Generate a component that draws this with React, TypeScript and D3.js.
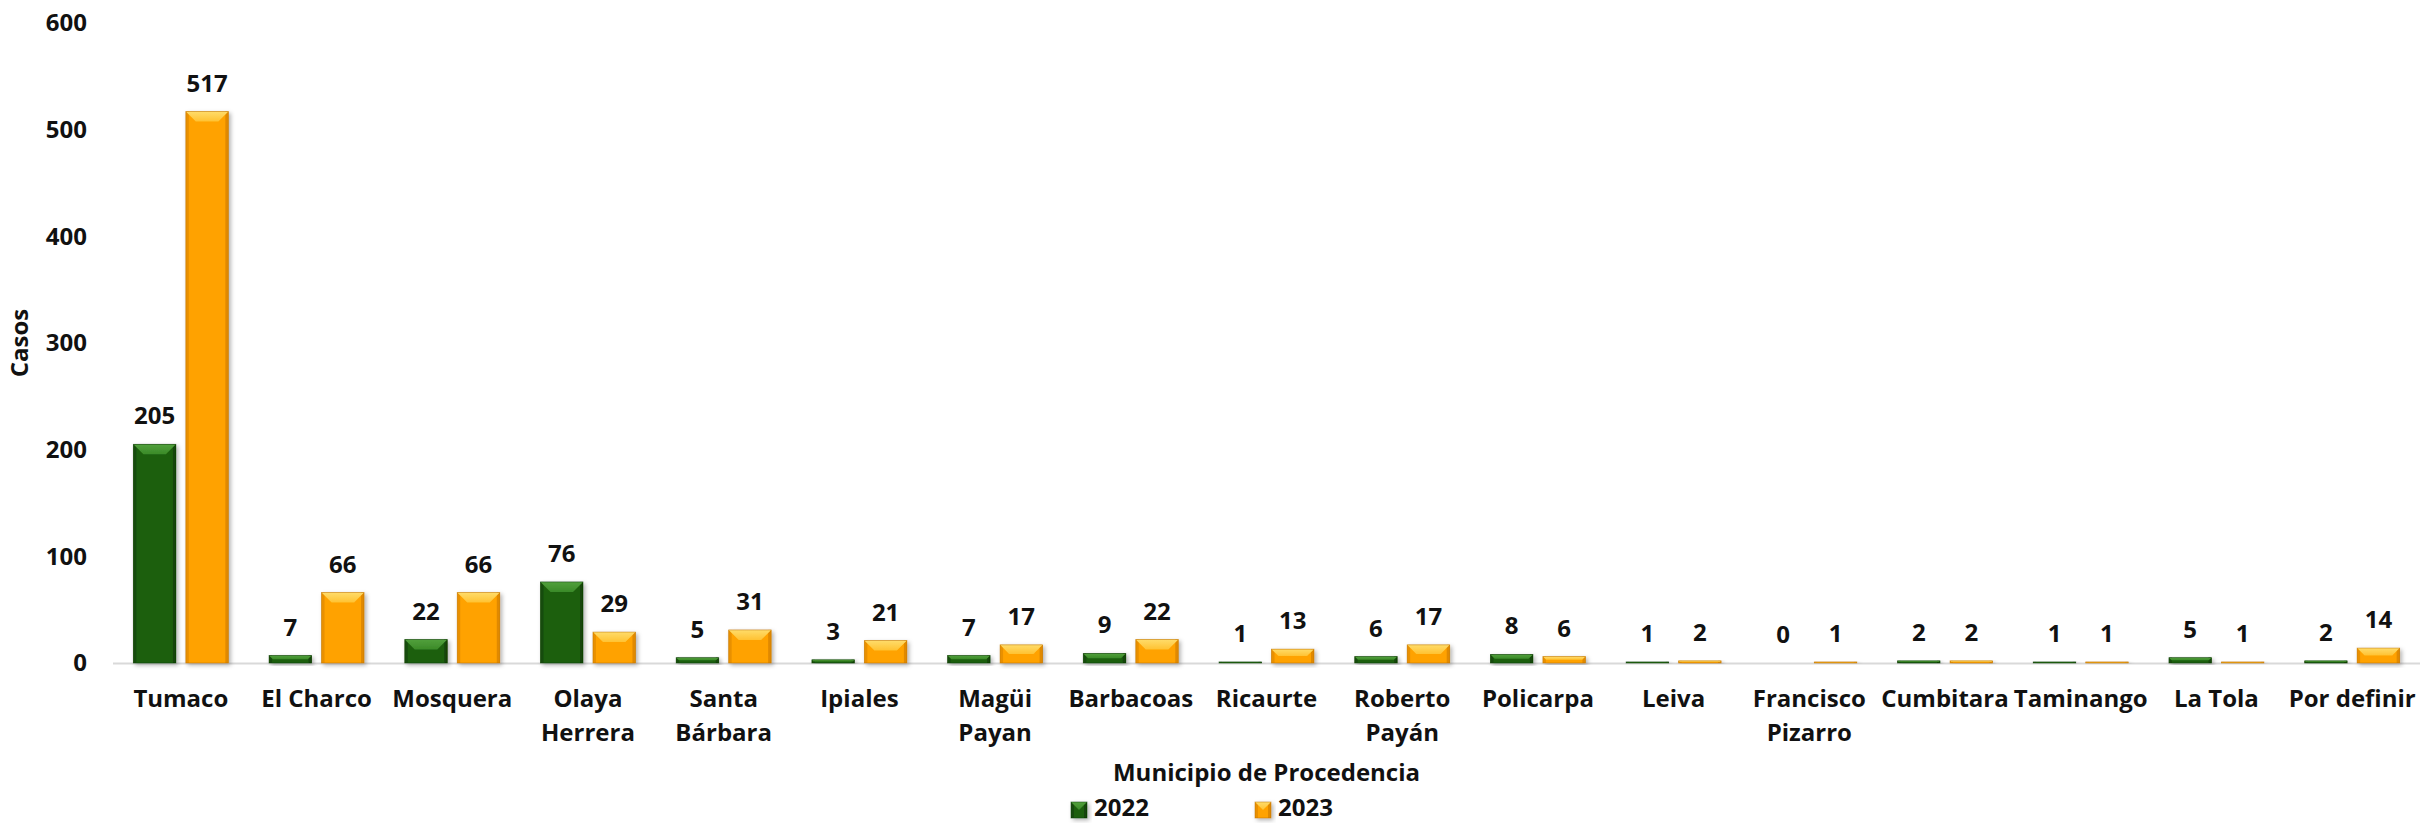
import React from "react";
import * as d3 from "d3";

const categories = [
  "Tumaco", "El Charco", "Mosquera", "Olaya Herrera", "Santa Bárbara", "Ipiales",
  "Magüi Payan", "Barbacoas", "Ricaurte", "Roberto Payán", "Policarpa", "Leiva",
  "Francisco Pizarro", "Cumbitara", "Taminango", "La Tola", "Por definir",
];
const wrappedLabels = ["Olaya Herrera", "Santa Bárbara", "Magüi Payan", "Roberto Payán", "Francisco Pizarro"];
const series = ["2022", "2023"];
const values2022 = [205, 7, 22, 76, 5, 3, 7, 9, 1, 6, 8, 1, 0, 2, 1, 5, 2];
const values2023 = [517, 66, 66, 29, 31, 21, 17, 22, 13, 17, 6, 2, 1, 2, 1, 1, 14];
const yTicks = [0, 100, 200, 300, 400, 500, 600];
const yTitle = "Casos";
const xTitle = "Municipio de Procedencia";

const W = 2420;
const H = 824;
const FONT = "'Open Sans', 'Noto Sans', sans-serif";
const FS = 24;

const palette: Record<string, { base: string; light: string; lightTop: string; dark: string; edge: string }> = {
  "2022": { base: "#1c5f0b", light: "#3a8a28", lightTop: "#52a03c", dark: "#134507", edge: "#0f3a05" },
  "2023": { base: "#ffa200", light: "#ffc232", lightTop: "#ffdc6a", dark: "#e08900", edge: "#b97000" },
};

function BevelBar({ x, y, w, h, s }: { x: number; y: number; w: number; h: number; s: string }) {
  if (h <= 0.01) return null;
  const c = palette[s];
  const b = Math.min(10, h / 2, w / 2);
  const side = Math.min(3, w / 4);
  return (
    <g filter="url(#shadow)">
      <rect x={x} y={y} width={w} height={h} fill={c.base} />
      <rect x={x} y={y} width={side} height={h} fill={c.dark} opacity={0.7} />
      <rect x={x + w - side} y={y} width={side} height={h} fill={c.dark} />
      <polygon
        points={`${x},${y} ${x + w},${y} ${x + w - b},${y + b} ${x + b},${y + b}`}
        fill={`url(#top-${s})`}
      />
      <rect x={x} y={y} width={w} height={h} fill="none" stroke={c.edge} strokeWidth={0.8} strokeOpacity={0.6} />
    </g>
  );
}

export default function App() {
  const plotLeft = 113;
  const plotRight = 2420;
  const y0 = 663;
  const yTop = 23;

  const x = d3.scaleBand<string>().domain(categories).range([plotLeft, plotRight]).paddingInner(0).paddingOuter(0);
  const bw = x.bandwidth();
  const x1 = d3.scaleBand<string>().domain(series).range([bw * 0.15, bw * 0.85]).paddingInner(0.19);
  const y = d3.scaleLinear().domain([0, 600]).range([y0, yTop]);

  const data: Record<string, number[]> = { "2022": values2022, "2023": values2023 };

  return (
    <svg
      width={W}
      height={H}
      style={{ position: "absolute", left: 0, top: 0, display: "block", background: "#fff" }}
      fontFamily={FONT}
    >
      <defs>
        <filter id="shadow" x="-30%" y="-30%" width="160%" height="160%">
          <feDropShadow dx="2" dy="2" stdDeviation="2" floodColor="#000" floodOpacity="0.3" />
        </filter>
        {series.map((s) => (
          <linearGradient key={s} id={`top-${s}`} x1="0" y1="0" x2="0" y2="1">
            <stop offset="0%" stopColor={palette[s].lightTop} />
            <stop offset="100%" stopColor={palette[s].light} />
          </linearGradient>
        ))}
      </defs>

      {yTicks.map((t) => (
        <text key={t} x={87} y={y(t)} dy="0.35em" textAnchor="end" fontSize={FS} fontWeight="bold" fill="#111">
          {t}
        </text>
      ))}

      <text
        transform={`translate(${28},${(y0 + yTop) / 2}) rotate(-90)`}
        textAnchor="middle"
        fontSize={FS}
        fontWeight="bold"
        fill="#111"
      >
        {yTitle}
      </text>

      <line x1={plotLeft} x2={plotRight} y1={y0 + 0.5} y2={y0 + 0.5} stroke="#d9d9d9" strokeWidth={2} />

      {categories.map((cat, i) => (
        <g key={cat}>
          {series.map((s) => {
            const v = data[s][i];
            const bx = (x(cat) as number) + (x1(s) as number);
            const by = y(v);
            return <BevelBar key={s} x={bx} y={by} w={x1.bandwidth()} h={y0 - by} s={s} />;
          })}
        </g>
      ))}

      {categories.map((cat, i) => (
        <g key={`l-${cat}`}>
          {series.map((s) => {
            const v = data[s][i];
            const cx = (x(cat) as number) + (x1(s) as number) + x1.bandwidth() / 2;
            return (
              <text key={s} x={cx} y={y(v) - 20} textAnchor="middle" fontSize={FS} fontWeight="bold" fill="#111">
                {v}
              </text>
            );
          })}
        </g>
      ))}

      {categories.map((cat) => {
        const cx = (x(cat) as number) + bw / 2;
        const lines = wrappedLabels.includes(cat) ? cat.split(" ") : [cat];
        return (
          <text key={`c-${cat}`} x={cx} y={707} textAnchor="middle" fontSize={FS} fontWeight="bold" fill="#111">
            {lines.map((ln, k) => (
              <tspan key={k} x={cx} dy={k === 0 ? 0 : 33.5}>
                {ln}
              </tspan>
            ))}
          </text>
        );
      })}

      <text x={(plotLeft + plotRight) / 2} y={781} textAnchor="middle" fontSize={FS} fontWeight="bold" fill="#111">
        {xTitle}
      </text>

      {series.map((s, k) => {
        const lx = 1071 + k * 184;
        return (
          <g key={`lg-${s}`}>
            <BevelBar x={lx} y={802} w={16} h={16} s={s} />
            <text x={lx + 23} y={816} fontSize={FS} fontWeight="bold" fill="#111">
              {s}
            </text>
          </g>
        );
      })}
    </svg>
  );
}
